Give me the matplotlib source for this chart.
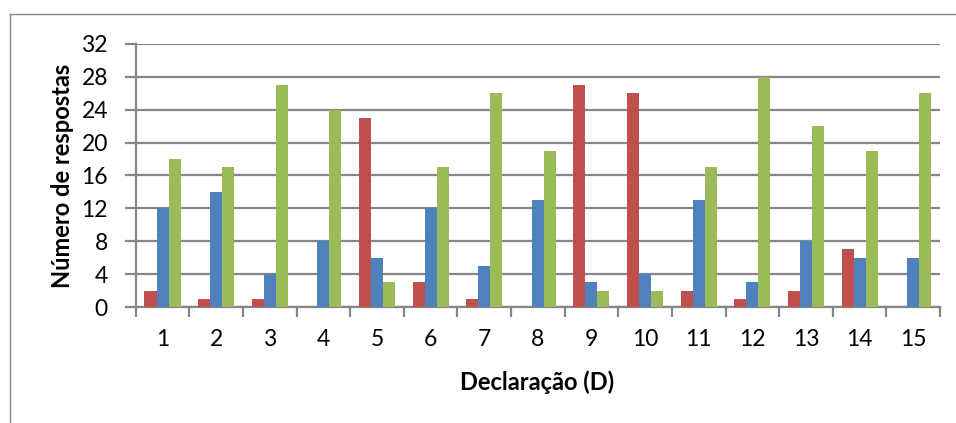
import matplotlib
matplotlib.use("Agg")
import matplotlib.pyplot as plt
import numpy as np
from matplotlib.lines import Line2D

# Respostas por declaração (três séries)
categorias = [str(i) for i in range(1, 16)]
serie_vermelha = [2, 1, 1, 0, 23, 3, 1, 0, 27, 26, 2, 1, 2, 7, 0]
serie_azul = [12, 14, 4, 8, 6, 12, 5, 13, 3, 4, 13, 3, 8, 6, 6]
serie_verde = [18, 17, 27, 24, 3, 17, 26, 19, 2, 2, 17, 28, 22, 19, 26]
y_ticks = [0, 4, 8, 12, 16, 20, 24, 28, 32]

cores = ["#C0504D", "#4F81BD", "#9BBB59"]
cinza = "#868686"

plt.rcParams["font.family"] = ["Lato", "DejaVu Sans"]

W, H = 956, 423
fig = plt.figure(figsize=(W / 100, H / 100), dpi=100)

# moldura do gráfico
fig.add_artist(Line2D([9.5 / W, 9.5 / W], [0, 1 - 14 / H], color=cinza, lw=1.0))
fig.add_artist(Line2D([9.5 / W, 1], [1 - 14 / H, 1 - 14 / H], color=cinza, lw=1.0))

x0, x1, ytop, ybot = 135.7, 940.0, 44.0, 307.0
ax = fig.add_axes([x0 / W, 1 - ybot / H, (x1 - x0) / W, (ybot - ytop) / H])

x = np.arange(len(categorias))
largura = 0.224
for k, (vals, cor) in enumerate(zip([serie_vermelha, serie_azul, serie_verde], cores)):
    ax.bar(x + (k - 1) * largura, vals, width=largura, color=cor, zorder=3,
           edgecolor="none")

ax.set_xlim(-0.5, len(categorias) - 0.5)
ax.set_ylim(0, 32)
ax.set_yticks(y_ticks)
ax.set_yticklabels([str(v) for v in y_ticks], fontsize=16.5)
ax.yaxis.grid(True, color=cinza, lw=1.6, zorder=0)
ax.set_axisbelow(True)

ax.set_xticks(x)
ax.set_xticklabels(categorias, fontsize=16.5)
ax.set_xticks(np.arange(-0.5, len(categorias)), minor=True)
ax.tick_params(axis="x", which="major", length=0, pad=16)
ax.tick_params(axis="x", which="minor", length=7, width=1.6, color=cinza, direction="out")
ax.tick_params(axis="y", length=8, width=1.6, color=cinza, direction="out", pad=12)

for s in ["top", "right"]:
    ax.spines[s].set_visible(False)
for s in ["left", "bottom"]:
    ax.spines[s].set_color(cinza)
    ax.spines[s].set_linewidth(1.6)

ax.set_ylabel("Número de respostas", fontsize=17, fontweight="bold", va="center")
ax.yaxis.set_label_coords((62 - x0) / (x1 - x0), 0.5)
ax.set_xlabel("Declaração (D)", fontsize=17, fontweight="bold", va="center")
ax.xaxis.set_label_coords((537 - x0) / (x1 - x0), (ybot - 382) / (ybot - ytop))

fig.savefig("out.png", dpi=100)
